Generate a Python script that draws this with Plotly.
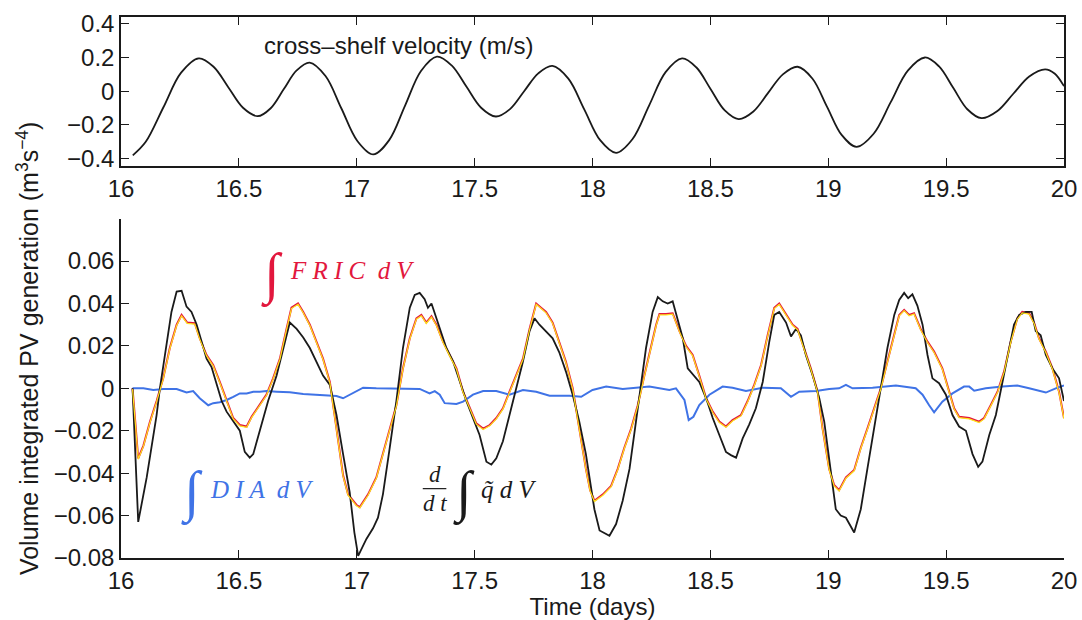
import plotly.graph_objects as go
from plotly.subplots import make_subplots

# ---------------- data ----------------
# top panel: cross-shelf velocity (m/s)
vel_t = [16.05, 16.105, 16.18, 16.255, 16.33, 16.3925, 16.455, 16.5175, 16.58, 16.635, 16.69,
         16.745, 16.80, 16.8675, 16.935, 17.0025, 17.07, 17.1375, 17.205, 17.2725, 17.34,
         17.4025, 17.465, 17.5275, 17.59, 17.65, 17.71, 17.77, 17.83, 17.8975, 17.965,
         18.0325, 18.10, 18.17, 18.24, 18.31, 18.38, 18.44, 18.50, 18.56, 18.62, 18.6825,
         18.745, 18.8075, 18.87, 18.9325, 18.995, 19.0575, 19.12, 19.1925, 19.265, 19.3375,
         19.41, 19.47, 19.53, 19.59, 19.65, 19.7175, 19.785, 19.8525, 19.92, 19.96, 20.0]
vel_v = [-0.38, -0.30, -0.095, 0.110, 0.195, 0.145, 0.024, -0.098, -0.148, -0.101, 0.011,
         0.123, 0.17, 0.090, -0.1025, -0.295, -0.375, -0.290, -0.085, 0.120, 0.205,
         0.153, 0.0275, -0.098, -0.15, -0.106, 0.0, 0.106, 0.15, 0.0745, -0.1075,
         -0.29, -0.365, -0.283, -0.085, 0.113, 0.195, 0.142, 0.015, -0.112, -0.165, -0.120,
         -0.01, 0.100, 0.145, 0.0755, -0.0925, -0.2605, -0.33, -0.252, -0.065, 0.122,
         0.20, 0.147, 0.02, -0.107, -0.16, -0.1175, -0.015, 0.0875, 0.13, 0.105, 0.03]

# bottom panel: d/dt of volume-integrated PV (black)
dq_t = [16.049, 16.073, 16.109, 16.151, 16.165, 16.186, 16.214, 16.236, 16.257, 16.278, 16.299,
        16.321, 16.342, 16.363, 16.384, 16.406, 16.427, 16.448, 16.476, 16.504, 16.525, 16.546,
        16.561, 16.589, 16.624, 16.66, 16.688, 16.716, 16.745, 16.773, 16.801, 16.829, 16.857,
        16.886, 16.914, 16.942, 16.97, 16.99, 17.006, 17.041, 17.069, 17.09, 17.111, 17.14,
        17.168, 17.196, 17.225, 17.246, 17.267, 17.288, 17.302, 17.317, 17.338, 17.359, 17.38,
        17.409, 17.437, 17.465, 17.493, 17.521, 17.55, 17.571, 17.592, 17.62, 17.648, 17.676,
        17.705, 17.733, 17.754, 17.775, 17.803, 17.831, 17.859, 17.887, 17.916, 17.944, 17.972,
        17.99, 18.008, 18.03, 18.072, 18.1, 18.128, 18.157, 18.185, 18.206, 18.227, 18.255,
        18.277, 18.298, 18.319, 18.34, 18.361, 18.383, 18.404, 18.432, 18.453, 18.482, 18.51,
        18.538, 18.566, 18.587, 18.609, 18.637, 18.665, 18.693, 18.722, 18.75, 18.771, 18.792,
        18.821, 18.842, 18.863, 18.884, 18.905, 18.934, 18.962, 18.983, 19.004, 19.032, 19.053,
        19.075, 19.11, 19.138, 19.166, 19.195, 19.223, 19.251, 19.28, 19.301, 19.322, 19.339,
        19.357, 19.378, 19.4, 19.421, 19.442, 19.47, 19.499, 19.527, 19.555, 19.584, 19.612,
        19.636, 19.654, 19.683, 19.711, 19.739, 19.767, 19.788, 19.81, 19.838, 19.863, 19.88,
        19.901, 19.923, 19.951, 19.979, 20.0]
dq_v = [0.0, -0.063, -0.042, -0.0126, 0.0, 0.0157, 0.036, 0.0456, 0.046, 0.0385, 0.036,
        0.030, 0.022, 0.014, 0.010, 0.0016, -0.006, -0.011, -0.0157, -0.020, -0.030, -0.0327,
        -0.031, -0.020, -0.006, 0.006, 0.019, 0.031, 0.028, 0.024, 0.019, 0.0126, 0.006,
        0.0016, -0.0126, -0.031, -0.049, -0.068, -0.079, -0.071, -0.066, -0.061, -0.050, -0.028,
        -0.006, 0.019, 0.038, 0.044, 0.045, 0.042, 0.038, 0.040, 0.033, 0.025, 0.019,
        0.0126, 0.003, -0.006, -0.014, -0.022, -0.0346, -0.036, -0.033, -0.025, -0.0126, 0.0,
        0.0126, 0.027, 0.033, 0.030, 0.027, 0.0236, 0.017, 0.008, -0.003, -0.0157, -0.031,
        -0.045, -0.057, -0.067, -0.0695, -0.064, -0.053, -0.038, -0.0157, 0.0016, 0.019, 0.036,
        0.043, 0.041, 0.040, 0.041, 0.033, 0.0236, 0.0094, 0.006, 0.003, -0.0047, -0.014,
        -0.022, -0.030, -0.0315, -0.0327, -0.0236, -0.017, -0.0094, 0.003, 0.022, 0.0346, 0.036,
        0.031, 0.0244, 0.028, 0.025, 0.0157, 0.006, -0.0047, -0.0157, -0.033, -0.057, -0.060,
        -0.061, -0.068, -0.057, -0.038, -0.019, 0.0, 0.019, 0.0346, 0.0417, 0.045, 0.0425,
        0.0443, 0.039, 0.030, 0.0157, 0.0047, 0.0024, -0.003, -0.0126, -0.018, -0.020, -0.031,
        -0.037, -0.0346, -0.022, -0.0126, 0.003, 0.020, 0.030, 0.0346, 0.036, 0.036, 0.027,
        0.025, 0.0157, 0.0094, 0.0047, -0.006]

# bottom panel: integral of FRIC (red, with yellow companion line)
fric_t = [16.049, 16.073, 16.095, 16.123, 16.151, 16.179, 16.207, 16.236, 16.257, 16.281, 16.313,
          16.334, 16.363, 16.391, 16.419, 16.448, 16.476, 16.504, 16.533, 16.554, 16.589, 16.617,
          16.645, 16.674, 16.702, 16.723, 16.751, 16.773, 16.801, 16.829, 16.857, 16.886, 16.914,
          16.942, 16.963, 16.999, 17.013, 17.048, 17.083, 17.111, 17.14, 17.168, 17.196, 17.225,
          17.253, 17.274, 17.295, 17.317, 17.338, 17.366, 17.394, 17.423, 17.451, 17.479, 17.507,
          17.536, 17.564, 17.592, 17.62, 17.648, 17.676, 17.705, 17.733, 17.761, 17.782, 17.803,
          17.831, 17.859, 17.887, 17.916, 17.944, 17.972, 17.99, 18.008, 18.044, 18.079, 18.107,
          18.135, 18.164, 18.192, 18.22, 18.248, 18.27, 18.284, 18.312, 18.34, 18.369, 18.397,
          18.425, 18.453, 18.482, 18.51, 18.538, 18.566, 18.594, 18.63, 18.658, 18.686, 18.715,
          18.743, 18.771, 18.792, 18.821, 18.849, 18.87, 18.898, 18.926, 18.955, 18.976, 19.004,
          19.025, 19.046, 19.075, 19.11, 19.138, 19.166, 19.195, 19.223, 19.251, 19.28, 19.301,
          19.322, 19.343, 19.364, 19.392, 19.421, 19.449, 19.484, 19.513, 19.534, 19.555, 19.598,
          19.64, 19.661, 19.689, 19.718, 19.746, 19.774, 19.802, 19.823, 19.852, 19.873, 19.894,
          19.923, 19.951, 19.979, 20.0]
fric_v = [0.0, -0.033, -0.027, -0.0157, -0.006, 0.0047, 0.019, 0.030, 0.0346, 0.031, 0.0307,
          0.0236, 0.0157, 0.011, 0.003, -0.006, -0.014, -0.0173, -0.018, -0.0134, -0.0079, -0.003,
          0.0047, 0.014, 0.028, 0.038, 0.040, 0.036, 0.030, 0.022, 0.014, 0.003, -0.019,
          -0.041, -0.050, -0.055, -0.056, -0.050, -0.042, -0.031, -0.019, -0.008, 0.0094, 0.0236,
          0.033, 0.0346, 0.031, 0.034, 0.030, 0.022, 0.0157, 0.0094, -0.0016, -0.0094, -0.0165,
          -0.019, -0.0173, -0.014, -0.0094, -0.0016, 0.006, 0.014, 0.028, 0.040, 0.038, 0.036,
          0.031, 0.022, 0.0126, 0.0, -0.019, -0.038, -0.048, -0.053, -0.050, -0.046, -0.038,
          -0.028, -0.019, -0.008, 0.006, 0.020, 0.030, 0.035, 0.035, 0.0354, 0.027, 0.020,
          0.0157, 0.006, -0.0047, -0.011, -0.0157, -0.018, -0.015, -0.0126, -0.006, 0.0016, 0.011,
          0.025, 0.038, 0.040, 0.0346, 0.030, 0.028, 0.019, 0.0094, -0.0016, -0.019, -0.038,
          -0.0456, -0.048, -0.042, -0.0385, -0.028, -0.019, -0.0094, 0.0, 0.0126, 0.025, 0.0346,
          0.037, 0.0346, 0.0354, 0.028, 0.022, 0.0173, 0.0094, -0.0016, -0.0094, -0.0134, -0.014,
          -0.0157, -0.014, -0.008, -0.0016, 0.008, 0.022, 0.033, 0.036, 0.0354, 0.031, 0.0236,
          0.0173, 0.0094, -0.0016, -0.014]

# bottom panel: integral of DIA (blue)
dia_t = [16.049, 16.095, 16.137, 16.179, 16.236, 16.278, 16.306, 16.334, 16.37, 16.391, 16.419,
         16.448, 16.476, 16.504, 16.533, 16.561, 16.589, 16.617, 16.66, 16.716, 16.773, 16.829,
         16.886, 16.914, 16.942, 16.97, 17.027, 17.083, 17.182, 17.267, 17.309, 17.331, 17.352,
         17.373, 17.423, 17.451, 17.493, 17.536, 17.592, 17.648, 17.705, 17.761, 17.818, 17.902,
         17.952, 18.0, 18.058, 18.128, 18.241, 18.326, 18.354, 18.375, 18.39, 18.408, 18.428,
         18.453, 18.496, 18.552, 18.594, 18.651, 18.722, 18.799, 18.842, 18.877, 18.948, 19.004,
         19.046, 19.075, 19.103, 19.188, 19.287, 19.371, 19.4, 19.428, 19.449, 19.484, 19.527,
         19.576, 19.598, 19.619, 19.668, 19.739, 19.802, 19.852, 19.923, 19.965, 20.0]
dia_v = [0.0, 0.0, -0.0008, -0.0003, -0.0003, -0.002, -0.0013, -0.0047, -0.008, -0.007, -0.0066,
         -0.0055, -0.004, -0.0024, -0.0024, -0.0016, -0.0016, -0.0013, -0.0016, -0.0019, -0.0027, -0.003,
         -0.0035, -0.0036, -0.0047, -0.003, 0.0003, 0.0, -0.0003, -0.0003, -0.0024, -0.0013, -0.003,
         -0.007, -0.0074, -0.0063, -0.003, -0.0013, -0.0013, -0.003, -0.0008, -0.0016, -0.0035, -0.0035,
         -0.004, -0.0008, 0.0008, -0.0003, 0.0008, -0.0008, 0.0, -0.003, -0.0055, -0.015, -0.0134,
         -0.0079, -0.003, 0.0008, 0.0003, -0.0013, 0.0003, 0.0, -0.004, -0.0016, -0.0013, -0.0003,
         0.0, 0.0016, 0.0, 0.0003, 0.0013, 0.0, -0.003, -0.008, -0.0113, -0.0063, -0.0024,
         0.0008, 0.0008, -0.0011, 0.0, 0.0008, 0.0013, 0.0, -0.002, 0.0, 0.0013]

x_ticks = [16, 16.5, 17, 17.5, 18, 18.5, 19, 19.5, 20]
x_tick_text = ["16", "16.5", "17", "17.5", "18", "18.5", "19", "19.5", "20"]
vel_ticks = [-0.4, -0.2, 0, 0.2, 0.4]
vel_tick_text = ["\u22120.4", "\u22120.2", "0", "0.2", "0.4"]
pv_ticks = [-0.08, -0.06, -0.04, -0.02, 0, 0.02, 0.04, 0.06]
pv_tick_text = ["\u22120.08", "\u22120.06", "\u22120.04", "\u22120.02", "0", "0.02", "0.04", "0.06"]

# ---------------- figure ----------------
FONT = "Liberation Sans, Arial, sans-serif"
SERIF = "Liberation Serif, DejaVu Serif, serif"
RED = "#e2173d"
YEL = "#ffe21a"
BLUE = "#3f73e6"
BLK = "#1a1a1a"
TICK = 24

fig = make_subplots(rows=2, cols=1, shared_xaxes=False)

fig.add_trace(go.Scatter(x=vel_t, y=vel_v, mode="lines",
                         line=dict(color=BLK, width=1.8, shape="spline", smoothing=1.0),
                         showlegend=False, hoverinfo="skip"), row=1, col=1)

# yellow companion drawn on an overlay axis shifted slightly so it peeks out beside the red
fig.add_trace(go.Scatter(x=fric_t, y=fric_v, mode="lines", line=dict(color=YEL, width=1.2),
                         xaxis="x2", yaxis="y3", showlegend=False, hoverinfo="skip"))
fig.add_trace(go.Scatter(x=fric_t, y=fric_v, mode="lines", line=dict(color=RED, width=2.0),
                         showlegend=False, hoverinfo="skip"), row=2, col=1)
fig.add_trace(go.Scatter(x=dia_t, y=dia_v, mode="lines", line=dict(color=BLUE, width=2.0),
                         showlegend=False, hoverinfo="skip"), row=2, col=1)
fig.add_trace(go.Scatter(x=dq_t, y=dq_v, mode="lines", line=dict(color=BLK, width=1.8),
                         showlegend=False, hoverinfo="skip"), row=2, col=1)

common_x = dict(range=[16, 20], tickvals=x_ticks, ticktext=x_tick_text, ticks="inside", ticklen=8,
                tickwidth=1.3, tickcolor=BLK, showline=True, linecolor=BLK, linewidth=1.5,
                showgrid=False, zeroline=False, automargin=False,
                tickfont=dict(family=FONT, size=TICK, color=BLK))

fig.update_layout(
    width=1082, height=620,
    paper_bgcolor="white", plot_bgcolor="white",
    margin=dict(l=121, r=18, t=17, b=62),
    xaxis=dict(**common_x, domain=[0, 1], anchor="y", mirror="ticks"),
    yaxis=dict(domain=[0.7244, 1.0], range=[-0.444, 0.44], tickvals=vel_ticks, ticktext=vel_tick_text,
               ticks="inside", ticklen=8, tickwidth=1.3, tickcolor=BLK, showline=True, linecolor=BLK,
               linewidth=1.5, mirror="ticks", showgrid=False, zeroline=False, automargin=False,
               tickfont=dict(family=FONT, size=TICK, color=BLK)),
    xaxis2=dict(**common_x, domain=[0, 1], anchor="y2", mirror=False,
                title=dict(text="Time (days)", font=dict(family=FONT, size=TICK, color=BLK), standoff=0)),
    yaxis2=dict(domain=[0.0, 0.6273], range=[-0.08, 0.08], tickvals=pv_ticks, ticktext=pv_tick_text,
                ticks="inside", ticklen=8, tickwidth=1.3, tickcolor=BLK, showline=True, linecolor=BLK,
                linewidth=1.5, mirror=False, showgrid=False, zeroline=False, automargin=False,
                tickfont=dict(family=FONT, size=TICK, color=BLK)),
    yaxis3=dict(domain=[0.0, 0.6273], range=[-0.0796, 0.0804], overlaying="y2", anchor="x2",
                visible=False, automargin=False),
)

ann = []
# shared y title
ann.append(dict(text="Volume integrated PV generation (m<sup>3</sup>s<sup>\u22124</sup>)", textangle=-90,
                xref="paper", yref="paper", x=-0.0986, y=0.388, showarrow=False,
                font=dict(family=FONT, size=25, color=BLK), xanchor="center", yanchor="middle"))
# top panel label
ann.append(dict(text="cross\u2013shelf velocity (m/s)", xref="x", yref="y", x=16.6, y=0.27,
                showarrow=False, xanchor="left", yanchor="middle",
                font=dict(family=FONT, size=TICK, color=BLK)))
# FRIC label
ann.append(dict(text="\u222B", xref="x2", yref="y2", x=16.64, y=0.0535, showarrow=False,
                xanchor="center", yanchor="middle", font=dict(family=SERIF, size=56, color=RED)))
ann.append(dict(text="<i>F R I C  d V</i>", xref="x2", yref="y2", x=16.71, y=0.0555, showarrow=False,
                xanchor="left", yanchor="middle", font=dict(family=SERIF, size=25, color=RED)))
# DIA label
ann.append(dict(text="\u222B", xref="x2", yref="y2", x=16.3, y=-0.0495, showarrow=False,
                xanchor="center", yanchor="middle", font=dict(family=SERIF, size=56, color=BLUE)))
ann.append(dict(text="<i>D I A  d V</i>", xref="x2", yref="y2", x=16.37, y=-0.0475, showarrow=False,
                xanchor="left", yanchor="middle", font=dict(family=SERIF, size=25, color=BLUE)))
# d/dt int q dV label
ann.append(dict(text="<i>d</i>", xref="x2", yref="y2", x=17.33, y=-0.0405, showarrow=False,
                xanchor="center", yanchor="middle", font=dict(family=SERIF, size=23, color=BLK)))
ann.append(dict(text="<i>d t</i>", xref="x2", yref="y2", x=17.33, y=-0.0545, showarrow=False,
                xanchor="center", yanchor="middle", font=dict(family=SERIF, size=23, color=BLK)))
ann.append(dict(text="\u222B", xref="x2", yref="y2", x=17.455, y=-0.0495, showarrow=False,
                xanchor="center", yanchor="middle", font=dict(family=SERIF, size=56, color=BLK)))
ann.append(dict(text="<i>q\u0303 d V</i>", xref="x2", yref="y2", x=17.52, y=-0.0475, showarrow=False,
                xanchor="left", yanchor="middle", font=dict(family=SERIF, size=25, color=BLK)))
fig.update_layout(annotations=ann)

fig.add_shape(type="line", xref="x2", yref="y2", x0=17.28, x1=17.38, y0=-0.0473, y1=-0.0473,
              line=dict(color=BLK, width=1.2))

fig.write_html("out.html", config={"displayModeBar": False},
               post_script="document.body.style.margin='0px';document.body.style.overflow='hidden';")
